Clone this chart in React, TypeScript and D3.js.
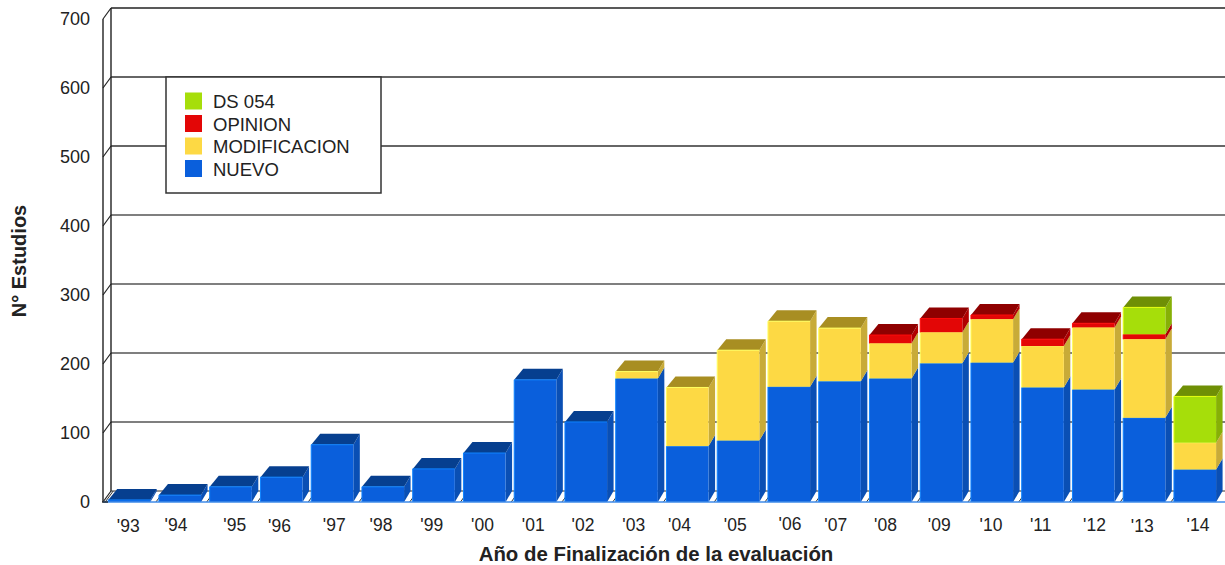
import { useEffect, useRef } from "react";
import * as d3 from "d3";

const years = ["'93", "'94", "'95", "'96", "'97", "'98", "'99", "'00", "'01", "'02", "'03", "'04", "'05", "'06", "'07", "'08", "'09", "'10", "'11", "'12", "'13", "'14"];
const nuevo = [3, 10, 22, 36, 83, 22, 48, 71, 177, 116, 179, 81, 89, 167, 175, 179, 201, 202, 166, 163, 122, 47];
const modificacion = [0, 0, 0, 0, 0, 0, 0, 0, 0, 0, 10, 85, 131, 95, 77, 51, 45, 63, 60, 90, 114, 39];
const opinion = [0, 0, 0, 0, 0, 0, 0, 0, 0, 0, 0, 0, 0, 0, 0, 12, 20, 6, 10, 6, 7, 0];
const ds054 = [0, 0, 0, 0, 0, 0, 0, 0, 0, 0, 0, 0, 0, 0, 0, 0, 0, 0, 0, 0, 39, 67];
const seriesNames = ["NUEVO", "MODIFICACION", "OPINION", "DS 054"];
const yTicks = [0, 100, 200, 300, 400, 500, 600, 700];

// the labels in the picture don't sit quite on the bar centres
const tickShiftX = [-1, -4, 4, -2, 2, -2, -2, -2, -2, -3, -3, -8, -3, 1, -4, -5, -2, -1, -2, 1, -2, 3];
const tickShiftY = [1, 0, 0, 1, 0, 0, 0, 0, 0, 0, 0, 0, 0, -1, 0, 0, 0, 0, 0, 0, 1, 0];

const faces: Record<string, { front: string; side: string; top: string }> = {
  NUEVO: { front: "#0a5fdc", side: "#0a4fb4", top: "#063f8f" },
  MODIFICACION: { front: "#fdd944", side: "#c8ab38", top: "#a88e22" },
  OPINION: { front: "#e30606", side: "#b00000", top: "#8f0000" },
  "DS 054": { front: "#a6de0a", side: "#86b006", top: "#6f8f05" },
};

const W = 1225;
const H = 565;
const font = "'Liberation Sans', Arial, sans-serif";

export default function App() {
  const ref = useRef<SVGSVGElement>(null);

  useEffect(() => {
    if (!ref.current) return;
    const svg = d3.select(ref.current);
    svg.selectAll("*").remove();

    // wall sits up and to the right of the front plane
    const wallX = 8;
    const wallY = 11;
    const axisX = 103;
    const backSlantL = 9;
    const backSlantR = 6.5;

    const y = d3.scaleLinear().domain([0, 700]).range([502, 19]);
    const x = d3.scaleBand<string>().domain(years).range([103.9, 1220.4]).paddingInner(0.17).paddingOuter(0.085);

    const rows = years.map((year, i) => ({
      year,
      NUEVO: nuevo[i],
      MODIFICACION: modificacion[i],
      OPINION: opinion[i],
      "DS 054": ds054[i],
    }));
    const stacked = d3.stack<any>().keys(seriesNames)(rows);

    // wall gridlines and the slanted ticks
    const grid = svg.append("g");
    yTicks.forEach((t) => {
      if (t > 0) {
        grid.append("line")
          .attr("x1", axisX + wallX).attr("x2", W)
          .attr("y1", y(t) - wallY).attr("y2", y(t) - wallY)
          .attr("stroke", t === 700 ? "#222" : t >= 500 ? "#333" : "#555")
          .attr("stroke-width", 1.6);
      }
      grid.append("line")
        .attr("x1", axisX).attr("x2", axisX + wallX)
        .attr("y1", y(t)).attr("y2", y(t) - wallY)
        .attr("stroke", "#222")
        .attr("stroke-width", 1.2);
    });
    grid.append("line").attr("x1", axisX + wallX).attr("x2", axisX + wallX)
      .attr("y1", y(700) - wallY).attr("y2", y(0) - wallY).attr("stroke", "#222").attr("stroke-width", 1.4);
    grid.append("line").attr("x1", axisX).attr("x2", axisX)
      .attr("y1", y(700)).attr("y2", y(0)).attr("stroke", "#222").attr("stroke-width", 1.4);
    grid.append("line").attr("x1", axisX + wallX).attr("x2", W)
      .attr("y1", y(0) - wallY).attr("y2", y(0) - wallY).attr("stroke", "#333").attr("stroke-width", 1.2);

    // floor slants between the bars
    years.forEach((yr) => {
      const x0 = x(yr)! - 3;
      grid.append("line")
        .attr("x1", x0).attr("x2", x0 + wallX)
        .attr("y1", y(0)).attr("y2", y(0) - wallY)
        .attr("stroke", "#333").attr("stroke-width", 1);
    });

    // bars, left to right so each front covers the previous side
    const bars = svg.append("g");
    const w = x.bandwidth();
    years.forEach((yr, i) => {
      const x0 = x(yr)!;
      const x1 = x0 + w;
      const g = bars.append("g");
      let topIdx = 0;
      stacked.forEach((s, k) => {
        if (s[i][1] > s[i][0]) topIdx = k;
      });
      stacked.forEach((s, k) => {
        const [a, b] = s[i];
        if (b <= a) return;
        const c = faces[s.key];
        const ya = y(a);
        const yb = y(b);
        g.append("path")
          .attr("d", `M${x1},${ya}L${x1 + backSlantR},${ya - wallY}L${x1 + backSlantR},${yb - wallY}L${x1},${yb}Z`)
          .attr("fill", c.side);
        if (k === topIdx) {
          g.append("path")
            .attr("d", `M${x0},${yb}L${x0 + backSlantL},${yb - wallY}L${x1 + backSlantR},${yb - wallY}L${x1},${yb}Z`)
            .attr("fill", c.top);
        }
        g.append("rect")
          .attr("x", x0).attr("y", yb)
          .attr("width", w).attr("height", ya - yb)
          .attr("fill", c.front);
        // thin light edge along the top and left of each front
        const edge = d3.color(c.front)!.brighter(0.9).formatHex();
        g.append("path")
          .attr("d", `M${x0},${ya}L${x0},${yb}L${x1},${yb}`)
          .attr("fill", "none")
          .attr("stroke", edge)
          .attr("stroke-width", 1);
      });
    });

    // front floor edge reads as light blue over the bars
    svg.append("line")
      .attr("x1", axisX).attr("x2", W)
      .attr("y1", y(0)).attr("y2", y(0))
      .attr("stroke", "#3f8be8").attr("stroke-width", 1.4);
    svg.append("line")
      .attr("x1", axisX - 1).attr("x2", axisX + 5)
      .attr("y1", y(0)).attr("y2", y(0))
      .attr("stroke", "#222").attr("stroke-width", 1.4);

    // y tick labels
    const axisY = svg.append("g")
      .attr("transform", `translate(${axisX - 13},0)`)
      .call(d3.axisLeft(y).tickValues(yTicks).tickSize(0).tickPadding(0).tickFormat(d3.format("d")));
    axisY.select(".domain").remove();
    axisY.selectAll("text")
      .attr("font-family", font).attr("font-size", 18).attr("fill", "#222");

    // x tick labels
    const axisB = svg.append("g").attr("transform", "translate(0,520)");
    years.forEach((yr, i) => {
      axisB.append("text")
        .attr("x", x(yr)! + w / 2 + tickShiftX[i])
        .attr("y", 11 + tickShiftY[i])
        .attr("text-anchor", "middle")
        .attr("font-family", font).attr("font-size", 17.5).attr("fill", "#222")
        .text(yr);
    });

    svg.append("text")
      .attr("x", 656).attr("y", 561)
      .attr("text-anchor", "middle")
      .attr("font-family", font).attr("font-size", 20.4).attr("font-weight", "bold").attr("fill", "#222")
      .text("Año de Finalización de la evaluación");
    svg.append("text")
      .attr("transform", "translate(26,261) rotate(-90)")
      .attr("text-anchor", "middle")
      .attr("font-family", font).attr("font-size", 20).attr("font-weight", "bold").attr("fill", "#222")
      .text("N° Estudios");

    // legend
    const legend = svg.append("g").attr("transform", "translate(166,77)");
    legend.append("rect")
      .attr("width", 215).attr("height", 116)
      .attr("fill", "#fff").attr("stroke", "#333").attr("stroke-width", 1.5);
    [...seriesNames].reverse().forEach((name, i) => {
      const row = legend.append("g").attr("transform", `translate(19,${15.5 + i * 22.5})`);
      row.append("rect").attr("width", 17).attr("height", 17).attr("fill", faces[name].front);
      row.append("text")
        .attr("x", 28).attr("y", 15.5)
        .attr("font-family", font).attr("font-size", 18.5).attr("fill", "#222")
        .text(name);
    });
  }, []);

  return (
    <svg
      ref={ref}
      width={W}
      height={H}
      viewBox={`0 0 ${W} ${H}`}
      style={{ position: "absolute", left: 0, top: 0, background: "#fff" }}
    />
  );
}
